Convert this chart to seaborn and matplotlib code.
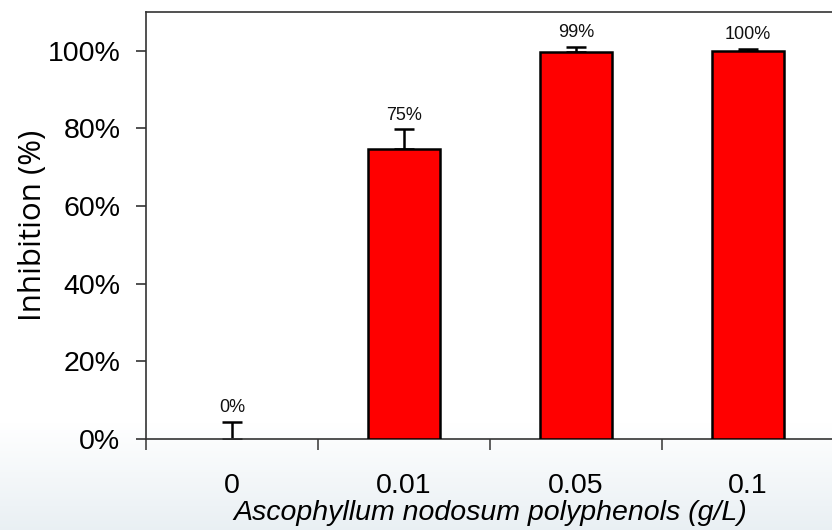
"""Inhibition (%) by Ascophyllum nodosum polyphenol concentration."""

import matplotlib
matplotlib.use("Agg")
import matplotlib.pyplot as plt
import numpy as np
import pandas as pd
import seaborn as sns

concentrations = ["0", "0.01", "0.05", "0.1"]
inhibition = [0.0, 74.8, 99.6, 99.9]
error_up = [4.5, 5.0, 1.5, 0.6]
value_labels = ["0%", "75%", "99%", "100%"]

sns.set_style("white")
plt.rcParams["font.family"] = ["Liberation Sans", "DejaVu Sans"]
plt.rcParams.update({"text.color": "black", "axes.labelcolor": "black",
                     "xtick.color": "black", "ytick.color": "black"})

df = pd.DataFrame({"conc": concentrations, "inhib": inhibition})

fig = plt.figure(figsize=(8.32, 5.30), dpi=100)

# faint bluish gradient behind the lower part of the slide
bg = fig.add_axes([0, 0, 1, 1], zorder=-10)
grad = np.linspace(0, 1, 256)[:, None]
grad = np.clip((grad - 0.80) / 0.20, 0, 1)
top_c = np.array([1.0, 1.0, 1.0])
bot_c = np.array([0.915, 0.94, 0.955])
img = top_c + (bot_c - top_c) * grad[..., None]
bg.imshow(img, aspect="auto", extent=[0, 1, 1, 0])
bg.axis("off")

ax = fig.add_axes([0.1755, 0.1717, 0.827, 0.8057])
ax.patch.set_alpha(0)

sns.barplot(data=df, x="conc", y="inhib", ax=ax, color="#ff0000",
            edgecolor="black", linewidth=1.8, width=0.42, saturation=1,
            errorbar=None, zorder=3)
for p in ax.patches:
    if p.get_height() == 0:
        p.set_linewidth(0)

x = np.arange(len(concentrations))
ax.errorbar(x, inhibition, yerr=[np.zeros(len(x)), error_up], fmt="none",
            ecolor="black", elinewidth=1.8, capsize=7, capthick=1.8, zorder=2)

for xi, v, e, lab in zip(x, inhibition, error_up, value_labels):
    ax.annotate(lab, (xi, v + e), xytext=(0, 4), textcoords="offset points",
                ha="center", va="bottom", fontsize=13, color="#111111")

ax.set_ylim(0, 110)
ax.set_xlim(-0.5, 3.5)
ax.set_yticks([0, 20, 40, 60, 80, 100])
ax.set_yticklabels([f"{t}%" for t in range(0, 101, 20)], fontsize=20.5)
ax.tick_params(axis="y", direction="out", length=7.5, width=1.2, color="#333333",
               left=True, pad=11)

ax.set_xticks(x)
ax.set_xticklabels(concentrations, fontsize=20.5)
ax.set_xticks([-0.5, 0.5, 1.5, 2.5], minor=True)
ax.tick_params(axis="x", which="major", length=0, pad=24.5)
ax.tick_params(axis="x", which="minor", direction="out", length=8, width=1.2,
               color="#444444", bottom=True)

ax.set_xlabel("Ascophyllum nodosum polyphenols (g/L)", fontsize=20.5,
              fontstyle="italic", labelpad=0.5)
ax.set_ylabel("Inhibition (%)", fontsize=22.5, family=["Open Sans", "DejaVu Sans"],
              labelpad=0)

for side in ["left", "top", "bottom"]:
    ax.spines[side].set_visible(True)
    ax.spines[side].set_color("#333333")
    ax.spines[side].set_linewidth(1.2)
ax.spines["right"].set_visible(False)

fig.savefig("out.png", dpi=100)
plt.close(fig)
